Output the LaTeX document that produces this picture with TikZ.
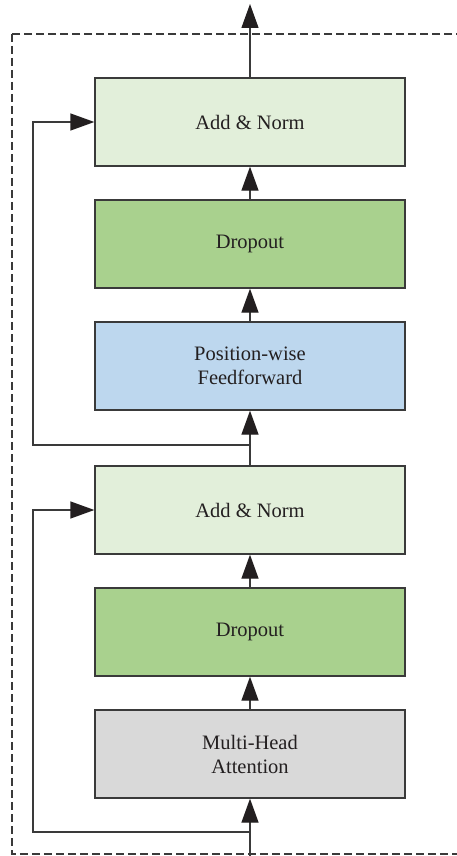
\documentclass[tikz,border=0pt]{standalone}
\usepackage{fontspec}
\setmainfont{Liberation Serif}
\usetikzlibrary{arrows.meta}
\definecolor{normfill}{HTML}{E2EFDA}
\definecolor{dropfill}{HTML}{A9D18E}
\definecolor{ffnfill}{HTML}{BDD7EE}
\definecolor{attnfill}{HTML}{D9D9D9}
\definecolor{ink}{HTML}{231F20}
\definecolor{edge}{HTML}{3A3A3A}
\tikzset{
  block/.style={draw=edge, line width=1.3pt, minimum width=310pt, minimum height=88pt,
    inner sep=0pt, align=center, font=\fontsize{20.5}{24}\selectfont, text=ink},
  flow/.style={draw=edge, line width=1.3pt,
    -{Triangle[length=24pt,width=17pt,color=ink]}},
  frame/.style={draw=edge, line width=1.1pt, dash pattern=on 8pt off 4pt}
}
\begin{document}
\begin{tikzpicture}[x=1pt,y=-1pt]
  \clip (0,0) rectangle (457,856);
  % dashed encoder-layer frame (right side runs past the page edge)
  \draw[frame] (12,34) rectangle (480,854);

  % blocks, top to bottom
  \node[block, fill=normfill] (an1)  at (250,122) {Add \& Norm};
  \node[block, fill=dropfill] (do1)  at (250,244) {Dropout};
  \node[block, fill=ffnfill]  (ffn)  at (250,366) {Position-wise\\Feedforward};
  \node[block, fill=normfill] (an2)  at (250,510) {Add \& Norm};
  \node[block, fill=dropfill] (do2)  at (250,632) {Dropout};
  \node[block, fill=attnfill] (mha)  at (250,754) {Multi-Head\\Attention};

  \coordinate (in)   at (250,856);
  \coordinate (out)  at (250,4);
  \coordinate (br1)  at (250,832);
  \coordinate (br2)  at (250,445);

  % main path
  \draw[flow] (in) -- (mha.south);
  \draw[flow] (mha.north) -- (do2.south);
  \draw[flow] (do2.north) -- (an2.south);
  \draw[flow] (an2.north) -- (ffn.south);
  \draw[flow] (ffn.north) -- (do1.south);
  \draw[flow] (do1.north) -- (an1.south);
  \draw[flow] (an1.north) -- (out);

  % residual connections
  \draw[flow] (br1) -- (33,832) |- (an2.west);
  \draw[flow] (br2) -- (33,445) |- (an1.west);
\end{tikzpicture}
\end{document}
